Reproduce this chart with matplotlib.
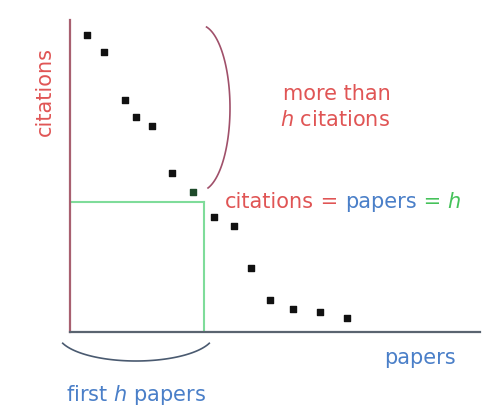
import numpy as np
import matplotlib
matplotlib.use("Agg")
import matplotlib.pyplot as plt

# h-index illustration: papers ranked by citations
papers = [0.85, 1.7, 2.75, 3.3, 4.1, 5.1, 6.15, 7.2, 8.2, 9.05, 10.0, 11.15, 12.5, 13.85]
citations = [14.85, 14.0, 11.6, 10.75, 10.3, 7.95, 7.0, 5.75, 5.3, 3.2, 1.6, 1.15, 1.0, 0.7]
h_index = 6.7
h_cit = 6.5
h_pos = 6  # index of the point at the h corner

red = "#e05555"
blue = "#4a7fc8"
green = "#45c25a"

plt.rcParams['font.family'] = ['DejaVu Sans']

fig = plt.figure(figsize=(4.93, 4.11), dpi=100)
ax = fig.add_axes([70 / 493, 79 / 411, 410 / 493, 312 / 411])
ax.set_xlim(0, 20.5)
ax.set_ylim(0, 15.6)

for s in ['top', 'right']:
    ax.spines[s].set_visible(False)
ax.spines['left'].set_color("#a86070")
ax.spines['left'].set_linewidth(1.6)
ax.spines['bottom'].set_color("#5a6470")
ax.spines['bottom'].set_linewidth(1.6)
ax.set_xticks([])
ax.set_yticks([])

# h lines
ax.plot([0, h_index], [h_cit, h_cit], color="#7fdc9a", lw=1.5)
ax.plot([h_index, h_index], [0, h_cit], color="#7fdc9a", lw=1.5)

colors = ["#111111"] * len(papers)
colors[h_pos] = "#1e4a2a"
ax.scatter(papers, citations, s=14, c=colors, marker='s', zorder=3)

# brackets
t = np.linspace(-1.3, 1.35, 100)
ax.plot(6.5 + 1.5 * np.cos(t), 11.2 + 4.15 * np.sin(t), color="#a0506a", lw=1.2, clip_on=False)
t = np.linspace(np.pi + 0.35, 2 * np.pi - 0.35, 100)
ax.plot(3.3 + 3.9 * np.cos(t), -0.1 + 1.35 * np.sin(t), color="#4a5a70", lw=1.2, clip_on=False)

fs = 15
ax.text(-1.25, 12.0, "citations", rotation=90, color=red, fontsize=fs, ha='center', va='center')
ax.text(13.35, 11.9, "more than", color=red, fontsize=fs, ha='center', va='center')
ax.text(13.25, 10.6, r"$\mathit{h}$ citations", color=red, fontsize=fs, ha='center', va='center')
ax.text(17.5, -1.3, "papers", color=blue, fontsize=fs, ha='center', va='center')
ax.text(3.3, -3.15, r"first $\mathit{h}$ papers", color=blue, fontsize=fs, ha='center', va='center')

# citations = papers = h, word by word
fig.canvas.draw()
r = fig.canvas.get_renderer()
x0 = 7.75
for word, col in [("citations", red), (" = ", red), ("papers", blue), (" = ", green), (r"$\mathit{h}$", green)]:
    tx = ax.text(x0, h_cit, word, color=col, fontsize=fs, ha='left', va='center')
    bb = tx.get_window_extent(renderer=r).transformed(ax.transData.inverted())
    x0 = bb.x1

fig.savefig("out.png", dpi=100)
